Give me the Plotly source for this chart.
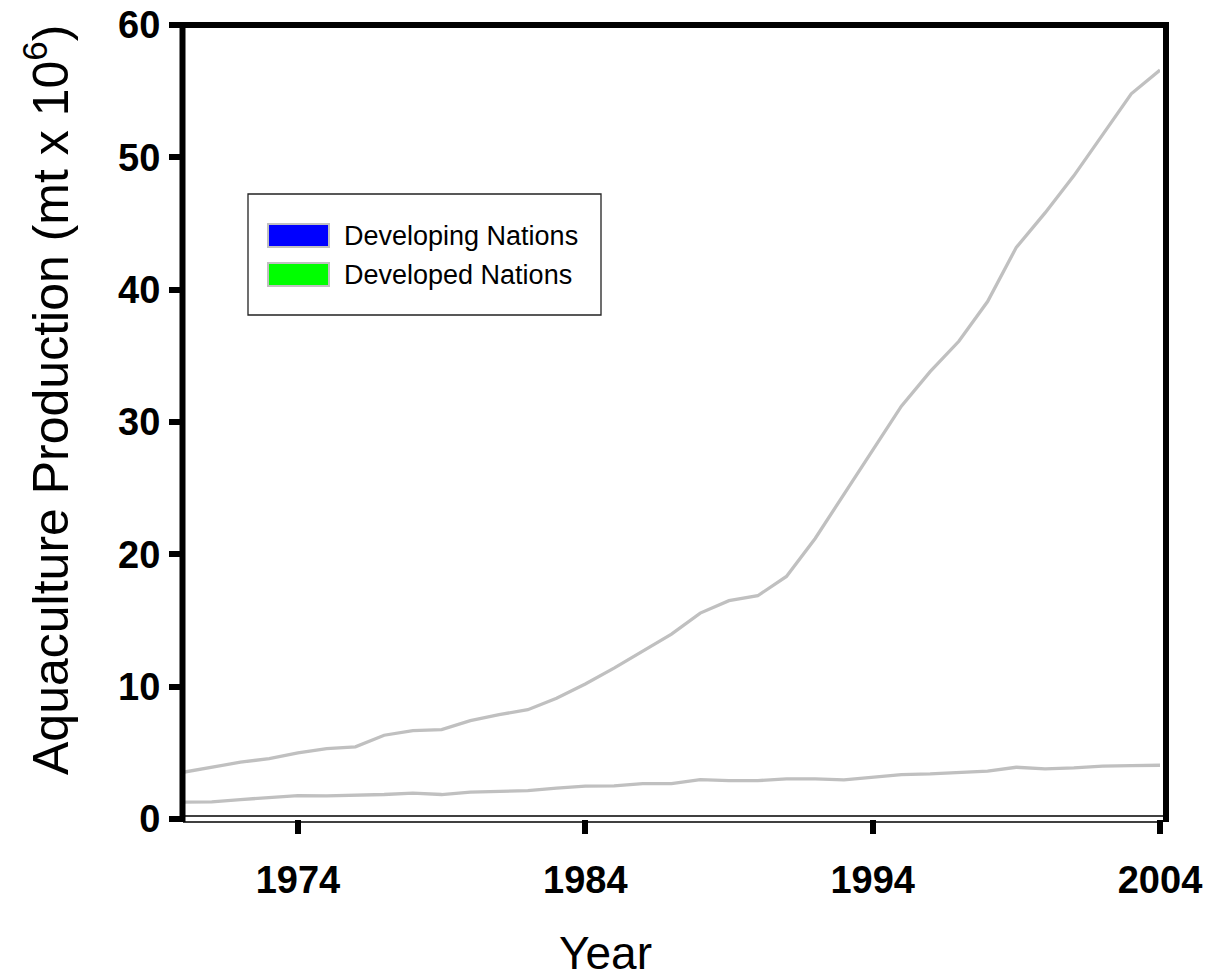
import plotly.graph_objects as go

# ---- data ----
years = list(range(1970, 2005))
developing = [3.53, 3.94, 4.29, 4.57, 5.00, 5.32, 5.45, 6.33, 6.68, 6.75,
              7.43, 7.89, 8.26, 9.12, 10.2, 11.4, 12.7, 13.97, 15.56, 16.5,
              16.87, 18.33, 21.2, 24.5, 27.8, 31.2, 33.8, 36.1, 39.1, 43.2,
              45.8, 48.6, 51.7, 54.8, 56.6]
developed = [1.27, 1.30, 1.47, 1.65, 1.77, 1.75, 1.77, 1.85, 1.95, 1.85,
             2.03, 2.10, 2.15, 2.33, 2.48, 2.50, 2.68, 2.68, 2.98, 2.90,
             2.90, 3.03, 3.03, 2.96, 3.18, 3.36, 3.41, 3.48, 3.61, 3.91,
             3.79, 3.87, 4.00, 4.03, 4.06]
series_names = ["Developing Nations", "Developed Nations"]
legend_colors = ["#0000ff", "#00ff00"]
x_ticks = [1974, 1984, 1994, 2004]
y_ticks = [0, 10, 20, 30, 40, 50, 60]

# ---- layout geometry ----
FW, FH = 1211, 979
L, T = 183, 25
R_PX, B_PX = 1160, 819
PW, PH = R_PX - L, B_PX - T


def px_x(p):
    return (p - L) / PW


def px_y(p):
    return (B_PX - p) / PH


TICKFONT = dict(family="Liberation Sans, Arial", size=38, color="black",
                weight="bold")
TITLEFONT = dict(family="Liberation Sans, Arial", size=46, color="black")
YTITLEFONT = dict(family="Liberation Sans, Arial", size=50, color="black")
LEGFONT = dict(family="Liberation Sans, Arial", size=27, color="black")

fig = go.Figure()
for name, vals in zip(series_names, [developing, developed]):
    fig.add_trace(go.Scatter(x=years, y=vals, mode="lines", name=name,
                             line=dict(color="#c0c0c0", width=3.3),
                             showlegend=False, hoverinfo="x+y+name"))

shapes = []
# frame: thick left, top, right lines
shapes.append(dict(type="line", xref="paper", yref="paper",
                   x0=px_x(182.5), x1=px_x(182.5), y0=px_y(822), y1=px_y(22),
                   line=dict(color="black", width=6), layer="above"))
shapes.append(dict(type="line", xref="paper", yref="paper",
                   x0=px_x(170), x1=px_x(1169), y0=px_y(25), y1=px_y(25),
                   line=dict(color="black", width=6), layer="above"))
shapes.append(dict(type="line", xref="paper", yref="paper",
                   x0=px_x(1166), x1=px_x(1166), y0=px_y(822), y1=px_y(22),
                   line=dict(color="black", width=6), layer="above"))
# thin double bottom line
for yp in (816, 822):
    shapes.append(dict(type="line", xref="paper", yref="paper",
                       x0=px_x(183), x1=px_x(1163), y0=px_y(yp), y1=px_y(yp),
                       line=dict(color="black", width=1.3), layer="above"))

# legend box
shapes.append(dict(type="rect", xref="paper", yref="paper",
                   x0=px_x(248), x1=px_x(601), y0=px_y(315), y1=px_y(194),
                   line=dict(color="#222222", width=1.3), fillcolor="white",
                   layer="above"))
annotations = []
sw_tops = [224, 263]
for name, col, top in zip(series_names, legend_colors, sw_tops):
    shapes.append(dict(type="rect", xref="paper", yref="paper",
                       x0=px_x(268), x1=px_x(329), y0=px_y(top + 23), y1=px_y(top),
                       line=dict(color="#c0c0c0", width=2), fillcolor=col,
                       layer="above"))
    annotations.append(dict(xref="paper", yref="paper", x=px_x(342),
                            y=px_y(top + 12), xanchor="left", yanchor="middle",
                            text=name, showarrow=False, font=LEGFONT))

# axis titles
annotations.append(dict(xref="paper", yref="paper", x=px_x(605), y=px_y(953),
                        xanchor="center", yanchor="middle", text="Year",
                        showarrow=False, font=TITLEFONT))
annotations.append(dict(xref="paper", yref="paper", x=px_x(47), y=px_y(400),
                        xanchor="center", yanchor="middle", textangle=-90,
                        text="Aquaculture Production (mt x 10<sup>6</sup>)",
                        showarrow=False, font=YTITLEFONT))

fig.update_layout(
    width=FW, height=FH,
    margin=dict(l=L, r=FW - R_PX, t=T, b=FH - B_PX, pad=0, autoexpand=False),
    paper_bgcolor="white", plot_bgcolor="white",
    showlegend=False,
    shapes=shapes, annotations=annotations,
    xaxis=dict(range=[1970, 2004], tickmode="array", tickvals=x_ticks,
               ticktext=[str(v) for v in x_ticks], automargin=False,
               ticks="outside", ticklen=14, tickwidth=6, tickcolor="black",
               showgrid=False, zeroline=False, showline=False,
               tickfont=TICKFONT, ticklabelstandoff=13),
    yaxis=dict(range=[0, 60], tickmode="array", tickvals=y_ticks,
               automargin=False,
               ticks="outside", ticklen=13, tickwidth=6, tickcolor="black",
               showgrid=False, zeroline=False, showline=False,
               tickfont=TICKFONT, ticklabelstandoff=1),
)

fig.write_html(
    "out.html",
    config={"displayModeBar": False},
    post_script="document.body.style.margin='0';document.body.style.padding='0';",
)
